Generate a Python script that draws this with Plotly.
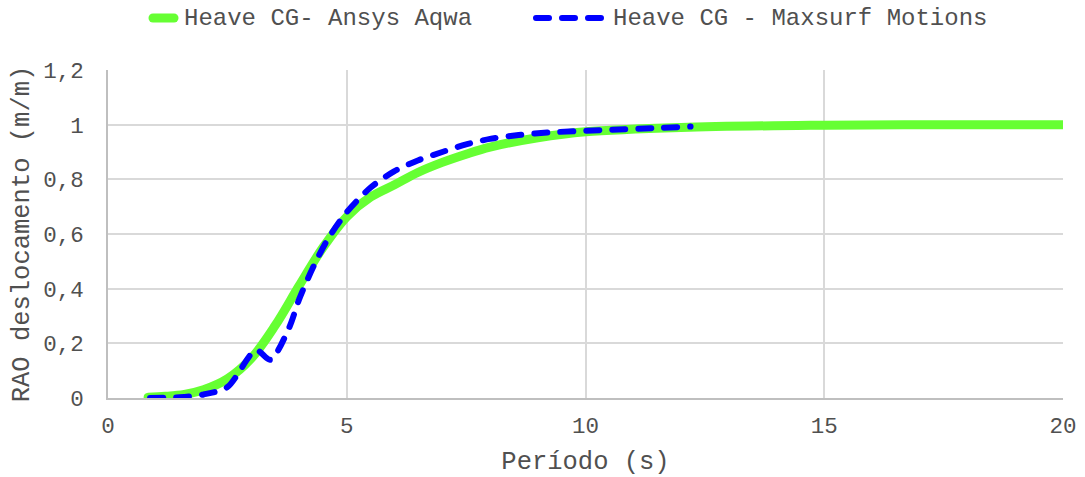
import plotly.graph_objects as go

# Heave RAO vs wave period, two solvers
periodo_aqwa = [0.84, 1.2, 1.6, 2.0, 2.5, 3.0, 3.5, 4.0, 4.5, 5.0, 5.5, 6.0, 6.5,
                7.0, 7.5, 8.0, 9.0, 10.0, 12.0, 15.0, 17.5, 20.0]
rao_aqwa = [0.003, 0.006, 0.013, 0.03, 0.07, 0.145, 0.265, 0.41, 0.55, 0.663, 0.735,
            0.78, 0.826, 0.862, 0.892, 0.918, 0.952, 0.974, 0.99, 0.998, 1.0, 1.0]

periodo_maxsurf = [0.88, 1.5, 2.0, 2.5, 3.1, 3.4, 3.8, 4.0, 4.3, 4.6, 5.0, 5.5, 6.0,
                   6.5, 7.0, 7.5, 8.0, 8.6, 9.2, 10.3, 11.4, 12.2]
rao_maxsurf = [0.0, 0.003, 0.013, 0.04, 0.175, 0.14, 0.26, 0.36, 0.48, 0.58, 0.68,
               0.77, 0.83, 0.87, 0.9, 0.928, 0.948, 0.962, 0.971, 0.98, 0.987, 0.993]

nome_aqwa = "Heave CG- Ansys Aqwa"
nome_maxsurf = "Heave CG - Maxsurf Motions"

x_ticks = [0, 5, 10, 15, 20]
y_ticks = [0, 0.2, 0.4, 0.6, 0.8, 1.0, 1.2]

VERDE = "#66ff33"
AZUL = "#0000ff"
TEXTO = "#505050"
FONTE = "Courier New, Liberation Mono, monospace"

W, H = 1085, 477
ML, MR, MT, MB = 108, 22, 70, 79
PW, PH = W - ML - MR, H - MT - MB


def px_to_paper_x(px):
    return (px - ML) / PW


def px_to_paper_y(py):
    return (H - MB - py) / PH


fig = go.Figure()
fig.add_trace(go.Scatter(
    x=periodo_aqwa, y=rao_aqwa, name=nome_aqwa, mode="lines",
    line=dict(color=VERDE, width=9, shape="spline", smoothing=1.0),
    showlegend=False,
))
fig.add_trace(go.Scatter(
    x=periodo_maxsurf, y=rao_maxsurf, name=nome_maxsurf, mode="lines",
    line=dict(color=AZUL, width=6, shape="spline", smoothing=0.8, dash="13px,13px"),
    showlegend=False,
))

# Legend drawn by hand at the top
leg_y = px_to_paper_y(18)
shapes = [
    dict(type="line", xref="paper", yref="paper",
         x0=px_to_paper_x(153), x1=px_to_paper_x(174), y0=leg_y, y1=leg_y,
         line=dict(color=VERDE, width=9)),
    dict(type="line", xref="paper", yref="paper",
         x0=px_to_paper_x(536), x1=px_to_paper_x(601), y0=leg_y, y1=leg_y,
         line=dict(color=AZUL, width=6, dash="13px,13px")),
]
annotations = [
    dict(text=nome_aqwa, xref="paper", yref="paper", x=px_to_paper_x(182), y=leg_y,
         xanchor="left", yanchor="middle", showarrow=False,
         font=dict(family=FONTE, size=24, color=TEXTO)),
    dict(text=nome_maxsurf, xref="paper", yref="paper", x=px_to_paper_x(611), y=leg_y,
         xanchor="left", yanchor="middle", showarrow=False,
         font=dict(family=FONTE, size=24, color=TEXTO)),
]

fig.update_layout(
    width=W, height=H, autosize=False,
    margin=dict(l=ML, r=MR, t=MT, b=MB),
    paper_bgcolor="white", plot_bgcolor="white",
    separators=",.",
    font=dict(family=FONTE, color=TEXTO),
    shapes=shapes, annotations=annotations,
)
fig.update_xaxes(
    range=[0, 20], tickvals=x_ticks, ticks="", ticklabelstandoff=6,
    tickfont=dict(size=22.5, color=TEXTO), automargin=False,
    showgrid=True, gridcolor="#d9d9d9", gridwidth=1.5,
    showline=True, linecolor="#bfbfbf", linewidth=1.5, zeroline=False,
    title=dict(text="Período (s)", font=dict(size=25.5, color=TEXTO), standoff=12),
)
fig.update_yaxes(
    range=[0, 1.2], tickvals=y_ticks, ticks="", ticklabelstandoff=18,
    tickfont=dict(size=22.5, color=TEXTO), automargin=False,
    showgrid=True, gridcolor="#d9d9d9", gridwidth=1.5,
    showline=True, linecolor="#bfbfbf", linewidth=1.5, zeroline=False,
    title=dict(text="RAO deslocamento (m/m)", font=dict(size=25.5, color=TEXTO), standoff=6),
)

arredondar = """
(function(){
  var gd = document.getElementById('{plot_id}');
  function fix(){
    gd.querySelectorAll('.scatterlayer .js-line, .shapelayer path').forEach(function(p){
      p.style.strokeLinecap = 'round';
      p.style.strokeLinejoin = 'round';
    });
  }
  fix();
  if (gd.on) gd.on('plotly_afterplot', fix);
  setTimeout(fix, 50);
})();
"""

fig.write_html("out.html", post_script=arredondar)
